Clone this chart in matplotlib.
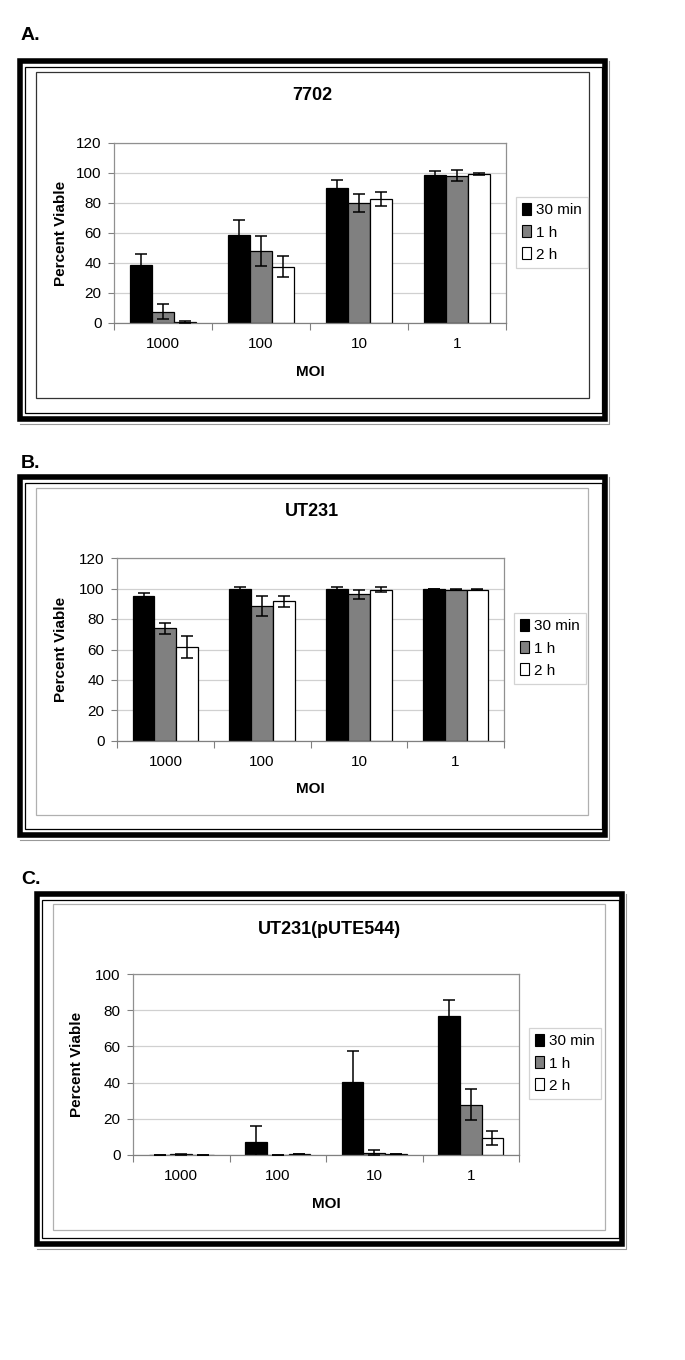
import numpy as np
import matplotlib
matplotlib.use("Agg")
import matplotlib.pyplot as plt
from matplotlib.patches import Rectangle, Patch

plt.rcParams['font.family'] = ['Liberation Sans', 'DejaVu Sans']

# data
moi = ['1000', '100', '10', '1']
times = ['30 min', '1 h', '2 h']
colors = ['#000000', '#808080', '#ffffff']

# A. 7702
a_30 = [38.7, 58.7, 90.1, 98.5]
a_30_err = [7.0, 10.0, 5.0, 3.0]
a_1h = [7.5, 48.0, 79.7, 98.3]
a_1h_err = [5.0, 10.0, 6.0, 3.5]
a_2h = [0.9, 37.4, 82.4, 99.6]
a_2h_err = [0.6, 7.0, 4.7, 0.6]

# B. UT231
b_30 = [94.8, 99.4, 100.0, 100.0]
b_30_err = [2.2, 1.5, 0.7, 0.0]
b_1h = [73.9, 88.5, 96.3, 99.2]
b_1h_err = [3.6, 6.5, 2.9, 0.5]
b_2h = [61.6, 91.5, 99.2, 99.2]
b_2h_err = [7.3, 3.6, 1.5, 0.5]

# C. UT231(pUTE544)
c_30 = [0.2, 7.4, 40.2, 76.9]
c_30_err = [0.0, 8.7, 17.4, 8.5]
c_1h = [0.4, 0.1, 1.3, 27.8]
c_1h_err = [0.2, 0.0, 1.5, 8.7]
c_2h = [0.2, 0.5, 0.6, 9.3]
c_2h_err = [0.0, 0.2, 0.0, 3.7]

W, H = 685, 1360
fig = plt.figure(figsize=(W / 100, H / 100), dpi=100)

# background axes in pixel coordinates for frames and texts
bg = fig.add_axes([0, 0, 1, 1])
bg.set_xlim(0, W)
bg.set_ylim(H, 0)
bg.axis('off')


def frame(l, t, r, b, box, box_color):
    # thick outer border with thin line inside, then the chart area box
    bg.add_patch(Rectangle((l + 2.7, t + 2.7), r - l - 5.4, b - t - 5.4, fill=False,
                           lw=4.0, ec='black'))
    bg.add_patch(Rectangle((l + 8, t + 9), r - l - 14, b - t - 18, fill=False,
                           lw=0.9, ec='black'))
    bg.plot([r + 1.5, r + 1.5, l + 3], [t + 3, b + 1.5, b + 1.5], color='#999999', lw=0.8)
    bx0, by0, bx1, by1 = box
    bg.add_patch(Rectangle((bx0, by0), bx1 - bx0, by1 - by0, fill=False,
                           lw=0.9, ec=box_color))


def panel(letter, letter_y, frame_box, chart_box, box_color, ax_box, title,
          title_xy, series, errs, ymax, ylab_xy, xlab_y, leg_xy):
    frame(*frame_box, chart_box, box_color)
    bg.text(21, letter_y, letter, fontsize=14, fontweight='bold', va='center', ha='left')
    bg.text(title_xy[0], title_xy[1], title, fontsize=13, fontweight='bold',
            ha='center', va='center')
    bg.text(ylab_xy[0], ylab_xy[1], 'Percent Viable', fontsize=11, fontweight='bold',
            rotation=90, ha='center', va='center')
    bg.text((ax_box[0] + ax_box[2]) / 2, xlab_y, 'MOI', fontsize=11,
            fontweight='bold', ha='center', va='center')

    l, t, r, b = ax_box
    ax = fig.add_axes([l / W, 1 - b / H, (r - l) / W, (b - t) / H])
    x = np.arange(len(moi))
    w = 0.225
    for i, (vals, err) in enumerate(zip(series, errs)):
        ax.bar(x + (i - 1) * w, vals, w, color=colors[i], edgecolor='black',
               linewidth=0.9, label=times[i], zorder=2)
        ax.errorbar(x + (i - 1) * w, vals, yerr=err, fmt='none', ecolor='black',
                    elinewidth=1.1, capsize=4, capthick=1.1, zorder=3)
    ax.set_xlim(-0.5, 3.5)
    ax.set_ylim(0, ymax)
    ax.set_yticks(np.arange(0, ymax + 1, 20))
    ax.set_xticks(x)
    ax.set_xticklabels(moi)
    ax.set_xticks(np.arange(-0.5, 4.0, 1.0), minor=True)
    ax.tick_params(axis='x', which='major', length=0, pad=10, labelsize=11)
    ax.tick_params(axis='x', which='minor', length=5, color='#808080', width=0.8)
    ax.tick_params(axis='y', length=4, color='#808080', width=0.8, pad=5, labelsize=11)
    ax.yaxis.grid(True, color='#d0d0d0', lw=0.9)
    ax.set_axisbelow(True)
    for s in ax.spines.values():
        s.set_color('#909090')
        s.set_linewidth(0.9)
    ax.spines['bottom'].set_color('#808080')

    handles = [Patch(facecolor=c, edgecolor='black', lw=0.8) for c in colors]
    leg = ax.legend(handles, times, loc='upper left',
                    bbox_to_anchor=(leg_xy[0] / W, 1 - leg_xy[1] / H),
                    bbox_transform=fig.transFigure, borderaxespad=0,
                    fontsize=11, fancybox=False, frameon=True,
                    handlelength=0.6, handleheight=0.85, handletextpad=0.3,
                    labelspacing=0.5, borderpad=0.4)
    leg.get_frame().set_edgecolor('#c8c8c8')
    leg.get_frame().set_linewidth(0.9)
    return ax


panel('A.', 35, (17, 58, 608, 422), (36.5, 72, 589, 398), '#333333',
      (114, 143, 506, 323), '7702', (312, 96),
      [a_30, a_1h, a_2h], [a_30_err, a_1h_err, a_2h_err], 120,
      (61, 233), 372, (516, 197))

panel('B.', 463, (17, 474, 608, 838), (36.5, 488, 588, 815), '#b0b0b0',
      (117, 558, 504, 741), 'UT231', (312, 512),
      [b_30, b_1h, b_2h], [b_30_err, b_1h_err, b_2h_err], 120,
      (61, 649), 789, (514, 613))

panel('C.', 879, (34, 891, 625, 1247), (53, 903.5, 605, 1229.5), '#b0b0b0',
      (133, 974, 519, 1155), 'UT231(pUTE544)', (329, 929),
      [c_30, c_1h, c_2h], [c_30_err, c_1h_err, c_2h_err], 100,
      (77, 1064), 1204, (529, 1028))

fig.savefig('out.png', dpi=100)
